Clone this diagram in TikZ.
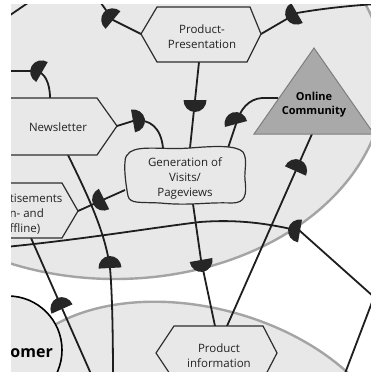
\documentclass[tikz,border=0pt]{standalone}
\usepackage{fontspec}
\setmainfont{Open Sans}
\definecolor{bgray}{HTML}{E8E8E8}
\definecolor{egray}{HTML}{A4A4A4}
\definecolor{boxline}{HTML}{2E2E2E}
\definecolor{lineblk}{HTML}{1E1E1E}
\definecolor{domefill}{HTML}{262626}
\definecolor{txt}{HTML}{222222}
\definecolor{trifill}{HTML}{A9A9A9}
\definecolor{triline}{HTML}{7E7E7E}
\tikzset{
  zone/.style={fill=bgray, draw=egray, line width=2.4pt},
  custcircle/.style={fill=bgray, draw=black, line width=1.6pt},
  box/.style={fill=bgray, draw=boxline, line width=1.2pt, line join=miter},
  conn/.style={draw=lineblk, line width=1.8pt},
  lbl/.style={font=\fontsize{11.5}{15}\selectfont, text=txt, align=center, inner sep=0pt},
  boldlbl/.style={font=\fontsize{11}{14}\selectfont\bfseries, text=black, align=center, inner sep=0pt},
  dome/.pic={\fill[domefill] (0pt,-11.5pt) arc[start angle=-90,end angle=90,x radius=12pt,y radius=11.5pt] -- cycle;}
}
\begin{document}
\begin{tikzpicture}[x=1pt,y=-1pt]
\useasboundingbox (0,0) rectangle (371,372);
\fill[white] (0,0) rectangle (371,372);
\begin{scope}
\clip (11,4) rectangle (371,372);
% zones
\draw[zone] (115,79) ellipse [x radius=270, y radius=200];
\draw[zone, rotate around={-15:(200,434)}] (200,434) ellipse [x radius=200, y radius=126];
\draw[custcircle] (8,350) circle [radius=54];
\node[font=\fontsize{16}{18}\selectfont\bfseries, text=black, anchor=east, inner sep=0pt] (cust) at (53,352) {Customer};

% attachment points
\coordinate (ppW) at (141,34);
\coordinate (ppE) at (261,34);
\coordinate (ppS) at (199,62);
\coordinate (nlE) at (117,126);
\coordinate (nlN) at (50,98);
\coordinate (nlS) at (68,155);
\coordinate (advE) at (78,211);
\coordinate (advS) at (31,238);
\coordinate (genN1) at (163,148);
\coordinate (genN2) at (190,148);
\coordinate (genN3) at (228,148);
\coordinate (genW) at (125,190);
\coordinate (genS) at (193,204);
\coordinate (ocW) at (278,98);
\coordinate (ocS) at (312,134);
\coordinate (piN1) at (215,326);
\coordinate (piN2) at (227,326);

% connectors
\draw[conn] (0,22) -- (38,-4);
\draw[conn] (ppW) -- (113,20) -- (96,-4);
\draw[conn] (ppE) -- (297,13) .. controls (320,9) and (345,6) .. (376,4);
\draw[conn] (-5,71) -- (36,71) .. controls (44,72) and (50,82) .. (nlN);
\draw[conn] (nlE) -- (133,121) .. controls (150,118) and (161,128) .. (genN1);
\draw[conn] (ppS) -- (genN2);
\draw[conn] (ocW) -- (262,98) .. controls (248,99) and (240,110) .. (236,124) -- (genN3);
\draw[conn] (ocS) -- (piN2);
\draw[conn] (genS) -- (201,260) -- (piN1);
\draw[conn] (advE) -- (genW);
\draw[conn] (nlS) .. controls (85,190) and (105,230) .. (110,268) .. controls (112,290) and (113,330) .. (113,380);
\draw[conn] (advS) -- (95,383);
\draw[conn] (-5,248) .. controls (80,240) and (150,228) .. (200,222) .. controls (240,219) and (270,224) .. (300,231) -- (374,297) -- (333,405);

% domes
\pic[rotate=140] at (113,20) {dome};
\pic[rotate=210] at (297,13) {dome};
\pic[rotate=150] at (42,72) {dome};
\pic[rotate=10] at (133,121) {dome};
\pic[rotate=-90] at (195,100) {dome};
\pic[rotate=105] at (236,124) {dome};
\pic[rotate=66] at (295.5,171) {dome};
\pic[rotate=-80] at (201,260) {dome};
\pic[rotate=207] at (104,199) {dome};
\pic[rotate=93] at (110,268) {dome};
\pic[rotate=114] at (62,309) {dome};
\pic[rotate=170] at (300,231) {dome};

% boxes
\draw[box] (141,34) -- (157,7) -- (250,7) -- (261,34) -- (247,62) -- (157,62) -- cycle;
\node[lbl] (pp) at (202,37) {Product-\\Presentation};
\draw[box] (-10,98) -- (97,98) -- (117,126) -- (97,155) -- (-10,155) -- cycle;
\node[lbl] (nl) at (58,127) {Newsletter};
\draw[box] (-30,183) -- (62,183) -- (78,211) -- (62,238) -- (-30,238) -- cycle;
\node[lbl] (adv) at (20.5,214) {Advertisements\\(On- and\\Offline)};
\draw[box] (156,353) -- (174,326) -- (263,326) -- (277,353) -- (263,380) -- (174,380) -- cycle;
\node[lbl] (pi) at (219,356) {Product\\information};
\draw[box] (130,152) .. controls (140,145) and (165,150) .. (190,148)
  .. controls (215,146) and (236,145) .. (243,152)
  .. controls (248,160) and (244,170) .. (245,180)
  .. controls (247,195) and (245,203) .. (232,203)
  .. controls (205,202) and (190,206) .. (160,203)
  .. controls (140,202) and (130,204) .. (128,196)
  .. controls (126,186) and (124,170) .. (125,162)
  .. controls (125,157) and (127,154) .. (130,152) -- cycle;
\node[lbl] (gen) at (185,178) {Generation of\\Visits/\\Pageviews};
\draw[fill=trifill, draw=triline, line width=1pt] (314,48) -- (254,134) -- (374,134) -- cycle;
\node[boldlbl] (oc) at (314,105) {Online\\Community};
\end{scope}
\end{tikzpicture}
\end{document}
